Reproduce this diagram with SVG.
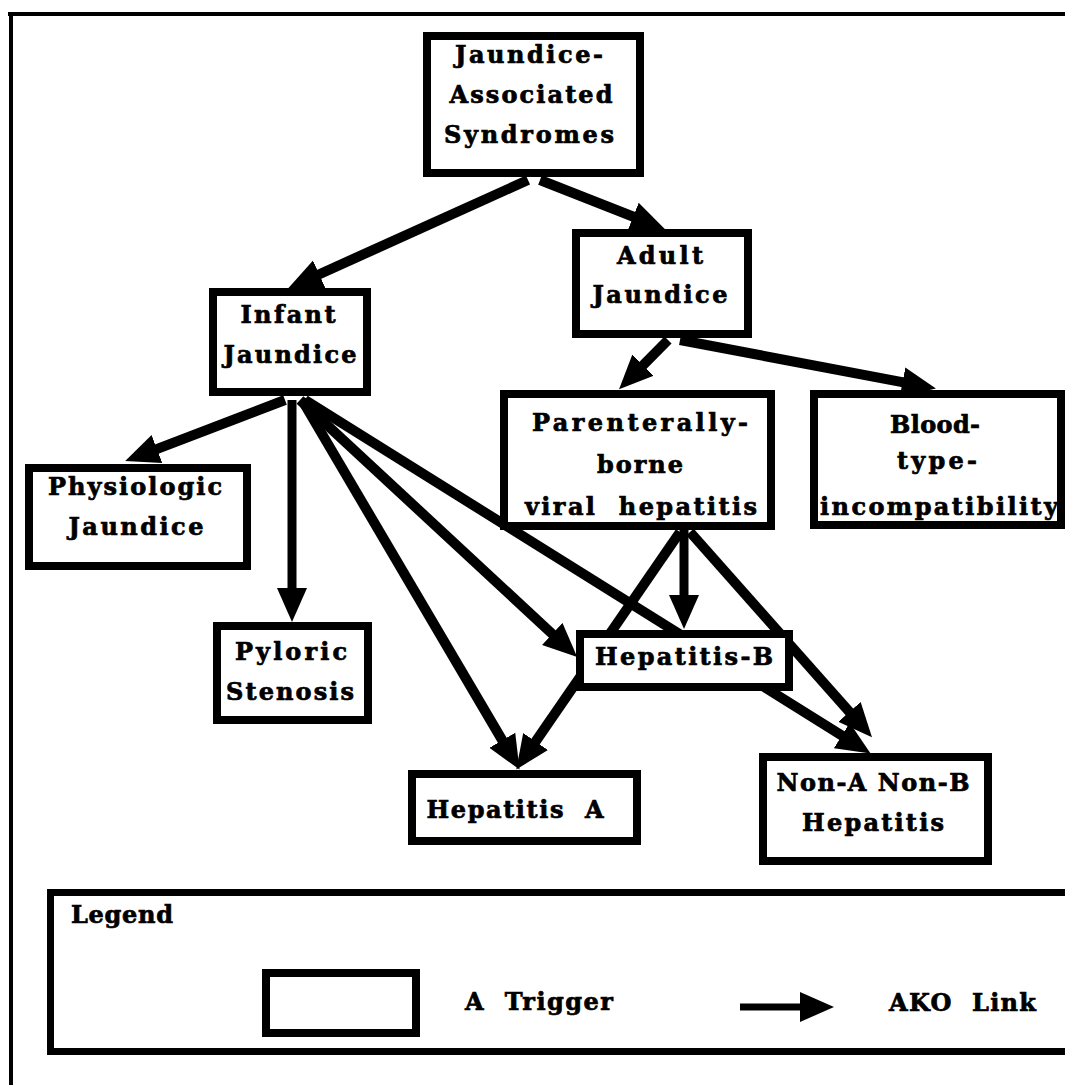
<svg xmlns="http://www.w3.org/2000/svg" width="1065" height="1085" viewBox="0 0 1065 1085">
<defs>
<marker id="ah" markerUnits="userSpaceOnUse" markerWidth="36" markerHeight="32" refX="1" refY="15" orient="auto" viewBox="0 0 36 30">
<path d="M0,0 L34,15 L0,30 Z" fill="#000"/>
</marker>
<style>
.node rect{fill:#fff;stroke:#000;stroke-width:8;}
.t{font-family:"DejaVu Serif","Liberation Serif",serif;font-weight:bold;font-size:24px;fill:#000;stroke:#000;stroke-width:0.7;text-anchor:middle;white-space:pre;}
.ts{font-family:"DejaVu Serif","Liberation Serif",serif;font-weight:bold;font-size:24px;fill:#000;stroke:#000;stroke-width:0.7;white-space:pre;}
.edge{fill:none;stroke:#000;stroke-width:10;marker-end:url(#ah);}
.frame{fill:none;stroke:#000;stroke-width:4;}
</style>
</defs>
<rect x="0" y="0" width="1065" height="1085" fill="#fff"/>
<g id="frame">
<path class="frame" d="M8,14 H1065 M11,12 V1085"/>
</g>
<g id="connectors">
<path class="edge" d="M528,180 L318.3,274.7"/>
<path class="edge" d="M540,180 L634.1,217"/>
<path class="edge" d="M668,340 L642.3,365.9"/>
<path class="edge" d="M680,340 L903.5,382.4"/>
<path class="edge" d="M285,400 L156,449.3"/>
<path class="edge" d="M292,400 L292,589" style="stroke-width:9"/>
<path class="edge" d="M300,400 L553,634.6"/>
<path class="edge" d="M302,400 L502.8,741.1"/>
<path class="edge" d="M305,400 L842.6,736.1"/>
<path class="edge" d="M684,530 L684,596" style="stroke-width:9"/>
<path class="edge" d="M680,532 L535,742.3"/>
<path class="edge" d="M690,532 L850.1,712.6"/>
</g>
<g id="n-top" class="node">
<rect x="427" y="36" width="213" height="137"/>
<text class="t" x="529" y="63" textLength="148">Jaundice-</text>
<text class="t" x="531" y="103" textLength="163">Associated</text>
<text class="t" x="529" y="143" textLength="170">Syndromes</text>
</g>
<g id="n-adult" class="node">
<rect x="576" y="233" width="172" height="101"/>
<text class="t" x="660" y="264" textLength="86">Adult</text>
<text class="t" x="660" y="303" textLength="135">Jaundice</text>
</g>
<g id="n-infant" class="node">
<rect x="213" y="292" width="154" height="100"/>
<text class="t" x="288" y="323" textLength="95">Infant</text>
<text class="t" x="290" y="363" textLength="133">Jaundice</text>
</g>
<g id="n-physiologic" class="node">
<rect x="29" y="468" width="218" height="98"/>
<text class="t" x="135" y="495" textLength="174">Physiologic</text>
<text class="t" x="136" y="535" textLength="135">Jaundice</text>
</g>
<g id="n-pyloric" class="node">
<rect x="217" y="626" width="151" height="94"/>
<text class="t" x="291" y="660" textLength="112">Pyloric</text>
<text class="t" x="290" y="700" textLength="128">Stenosis</text>
</g>
<g id="n-parenterally" class="node">
<rect x="504" y="394" width="267" height="132"/>
<text class="t" x="640" y="431" textLength="216">Parenterally-</text>
<text class="t" x="640" y="473" textLength="86">borne</text>
<text class="t" x="641" y="515" textLength="232">viral  hepatitis</text>
</g>
<g id="n-blood" class="node">
<rect x="814" y="394" width="247" height="131"/>
<text class="t" x="935" y="433" textLength="90">Blood-</text>
<text class="t" x="937" y="469" textLength="80">type-</text>
<text class="t" x="939" y="515" textLength="238">incompatibility</text>
</g>
<g id="n-hepb" class="node">
<rect x="580" y="634" width="209" height="53"/>
<text class="t" x="684" y="665" textLength="178">Hepatitis-B</text>
</g>
<g id="n-hepa" class="node">
<rect x="412" y="774" width="225" height="67"/>
<text class="t" x="515" y="818" textLength="177">Hepatitis  A</text>
</g>
<g id="n-nonanonb" class="node">
<rect x="763" y="757" width="225" height="104"/>
<text class="t" x="873" y="791" textLength="193">Non-A Non-B</text>
<text class="t" x="873" y="831" textLength="142">Hepatitis</text>
</g>
<g id="legend">
<rect x="50.5" y="892.5" width="1030" height="159" fill="none" stroke="#000" stroke-width="7"/>
<text class="ts" x="71" y="923" textLength="102">Legend</text>
<rect x="266" y="973" width="150" height="60" fill="#fff" stroke="#000" stroke-width="8"/>
<text class="ts" x="465" y="1010" textLength="148">A  Trigger</text>
<path d="M740,1007 L801,1007" fill="none" stroke="#000" stroke-width="7" marker-end="url(#ah)"/>
<text class="ts" x="889" y="1011" textLength="147">AKO  Link</text>
</g>
</svg>
